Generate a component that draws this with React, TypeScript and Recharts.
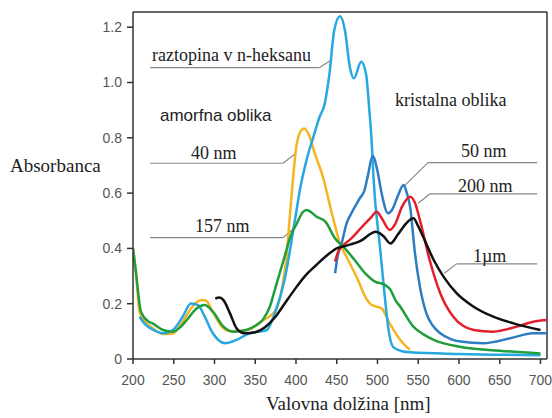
import { LineChart, Line, XAxis, YAxis, ReferenceLine } from "recharts";

type Pt = { nm: number; a: number };
const pts = (rows: number[][]): Pt[] => rows.map(([nm, a]) => ({ nm, a }));

// absorbance spectra, [wavelength nm, absorbance]
const hexane = pts([
  [208, 0.153], [215, 0.125], [225, 0.105], [237, 0.093], [249, 0.105], [261, 0.153],
  [271, 0.201], [280, 0.195], [288, 0.153], [298, 0.093], [305, 0.068], [313, 0.057],
  [327, 0.069], [343, 0.093], [355, 0.099], [364, 0.104], [374, 0.166], [386, 0.286],
  [398, 0.49], [406, 0.63], [413, 0.72], [421, 0.8], [429, 0.876], [435, 0.92],
  [441, 1.03], [447, 1.19], [454, 1.24], [460, 1.19], [466, 1.057], [471, 1.015],
  [480, 1.075], [486, 1.03], [490, 0.9], [493, 0.78], [495, 0.66], [503, 0.406],
  [509, 0.225], [513, 0.117], [519, 0.044], [530, 0.028], [540, 0.024], [600, 0.018],
  [700, 0.014],
]);

const nm40 = pts([
  [200, 0.4], [204, 0.3], [208, 0.17], [215, 0.135], [225, 0.11], [237, 0.09],
  [249, 0.092], [262, 0.14], [273, 0.19], [284, 0.213], [290, 0.21], [298, 0.17],
  [308, 0.12], [320, 0.1], [340, 0.105], [360, 0.14], [376, 0.18], [383, 0.26],
  [388, 0.36], [392, 0.5], [396, 0.64], [400, 0.76], [405, 0.82], [410, 0.834],
  [416, 0.81], [423, 0.744], [433, 0.659], [444, 0.527], [454, 0.418], [464, 0.358],
  [476, 0.286], [485, 0.225], [493, 0.195], [505, 0.183], [515, 0.129], [528, 0.069],
  [540, 0.033],
]);

const nm157 = pts([
  [200, 0.4], [203, 0.33], [206, 0.25], [209, 0.18], [212, 0.158], [218, 0.138],
  [225, 0.127], [237, 0.105], [249, 0.099], [258, 0.115], [266, 0.141], [278, 0.183],
  [288, 0.195], [298, 0.171], [311, 0.117], [323, 0.099], [339, 0.105], [350, 0.12],
  [360, 0.145], [368, 0.19], [374, 0.25], [386, 0.37], [394, 0.45], [401, 0.49],
  [408, 0.53], [413, 0.539], [419, 0.53], [425, 0.515], [436, 0.497], [448, 0.436],
  [460, 0.4], [472, 0.358], [485, 0.31], [497, 0.28], [509, 0.268], [516, 0.25],
  [522, 0.213], [528, 0.189], [544, 0.117], [556, 0.09], [569, 0.069], [601, 0.044],
  [650, 0.03], [700, 0.02],
]);

const nm50 = pts([
  [448, 0.31], [451, 0.37], [456, 0.418], [462, 0.49], [468, 0.527], [478, 0.58],
  [484, 0.61], [488, 0.66], [494, 0.734], [500, 0.68], [505, 0.6], [513, 0.527],
  [518, 0.54], [525, 0.59], [532, 0.629], [536, 0.6], [540, 0.551], [546, 0.382],
  [552, 0.262], [560, 0.165], [568, 0.12], [577, 0.093], [590, 0.072], [602, 0.063],
  [630, 0.057], [663, 0.075], [691, 0.093], [708, 0.093],
]);

const nm200 = pts([
  [448, 0.352], [452, 0.39], [456, 0.406], [468, 0.436], [481, 0.478], [493, 0.515],
  [499, 0.533], [505, 0.51], [515, 0.467], [522, 0.49], [530, 0.55], [540, 0.587],
  [546, 0.565], [552, 0.503], [564, 0.358], [577, 0.238], [593, 0.153], [605, 0.12],
  [618, 0.105], [642, 0.099], [671, 0.117], [691, 0.135], [708, 0.141],
]);

const um1 = pts([
  [301, 0.219], [306, 0.222], [311, 0.213], [319, 0.165], [327, 0.111], [333, 0.096],
  [339, 0.093], [350, 0.097], [362, 0.115], [374, 0.15], [386, 0.2], [398, 0.25],
  [411, 0.3], [425, 0.34], [436, 0.37], [450, 0.4], [464, 0.412], [481, 0.43],
  [490, 0.45], [498, 0.46], [507, 0.445], [516, 0.418], [525, 0.45], [535, 0.49],
  [544, 0.509], [550, 0.48], [556, 0.442], [569, 0.358], [581, 0.298], [597, 0.238],
  [618, 0.189], [642, 0.153], [667, 0.129], [700, 0.105],
]);

const xTicks = [200, 250, 300, 350, 400, 450, 500, 550, 600, 650, 700];
const yTicks = [0, 0.2, 0.4, 0.6, 0.8, 1.0, 1.2];

// leader lines: [x1, y1, x2, y2] in data units
const leaders = [
  [221, 1.054, 429, 1.054], [429, 1.054, 444, 1.082],
  [221, 0.708, 384, 0.708], [384, 0.708, 400, 0.744],
  [221, 0.439, 384, 0.439], [384, 0.439, 400, 0.478],
  [562, 0.71, 696, 0.71], [562, 0.71, 533, 0.626],
  [564, 0.597, 696, 0.597], [564, 0.597, 550, 0.563],
  [597, 0.344, 696, 0.344], [597, 0.344, 582, 0.31],
];

const serif = "'Liberation Serif', 'Times New Roman', serif";
const sans = "'Liberation Sans', Arial, sans-serif";

const series = [
  { data: nm40, color: "#F4B522" },
  { data: hexane, color: "#27A8E0" },
  { data: nm50, color: "#2D7DC2" },
  { data: nm200, color: "#E2202C" },
  { data: nm157, color: "#1F9E3E" },
  { data: um1, color: "#111111" },
];

export default function App() {
  return (
    <div style={{ position: "absolute", left: 0, top: 0, width: 552, height: 418, background: "#fff" }}>
      <LineChart width={552} height={418} margin={{ top: 12, right: 5, bottom: 0, left: 0 }}>
        <XAxis
          type="number"
          dataKey="nm"
          domain={[200, 708]}
          ticks={xTicks}
          allowDataOverflow
          height={59}
          tickSize={5}
          tickMargin={11}
          stroke="#333"
          strokeWidth={1.5}
          tick={{ fill: "#555", fontSize: 14, fontFamily: sans }}
        />
        <YAxis
          type="number"
          domain={[0, 1.255]}
          ticks={yTicks}
          allowDataOverflow
          width={133}
          tickSize={6}
          tickMargin={5}
          stroke="#333"
          strokeWidth={1.5}
          tickFormatter={(v: number) => (v === 0 ? "0" : v.toFixed(1))}
          tick={{ fill: "#555", fontSize: 14, fontFamily: sans }}
        />
        <ReferenceLine y={1.255} stroke="#333" strokeWidth={1.5} />
        <ReferenceLine x={708} stroke="#333" strokeWidth={1.5} />
        {leaders.map(([x1, y1, x2, y2], i) => (
          <ReferenceLine
            key={i}
            segment={[{ x: x1, y: y1 }, { x: x2, y: y2 }]}
            stroke="#888"
            strokeWidth={1.2}
          />
        ))}
        {series.map((s, i) => (
          <Line
            key={i}
            data={s.data}
            dataKey="a"
            type="monotone"
            stroke={s.color}
            strokeWidth={2.5}
            dot={false}
            isAnimationActive={false}
          />
        ))}
      </LineChart>
      <svg width={552} height={418} style={{ position: "absolute", left: 0, top: 0, pointerEvents: "none" }}>
        <g fill="#222" fontFamily={serif} fontSize={18}>
          <text x={152} y={61}>raztopina v n-heksanu</text>
          <text x={191} y={159}>40 nm</text>
          <text x={195} y={232}>157 nm</text>
          <text x={395} y={106}>kristalna oblika</text>
          <text x={461} y={157}>50 nm</text>
          <text x={458} y={192}>200 nm</text>
          <text x={473} y={262}>1µm</text>
          <text x={10} y={172} fontSize={19}>Absorbanca</text>
          <text x={266} y={410} fontSize={19}>Valovna dolžina [nm]</text>
        </g>
        <text x={160} y={121} fill="#222" fontFamily={sans} fontSize={17}>amorfna oblika</text>
      </svg>
    </div>
  );
}
